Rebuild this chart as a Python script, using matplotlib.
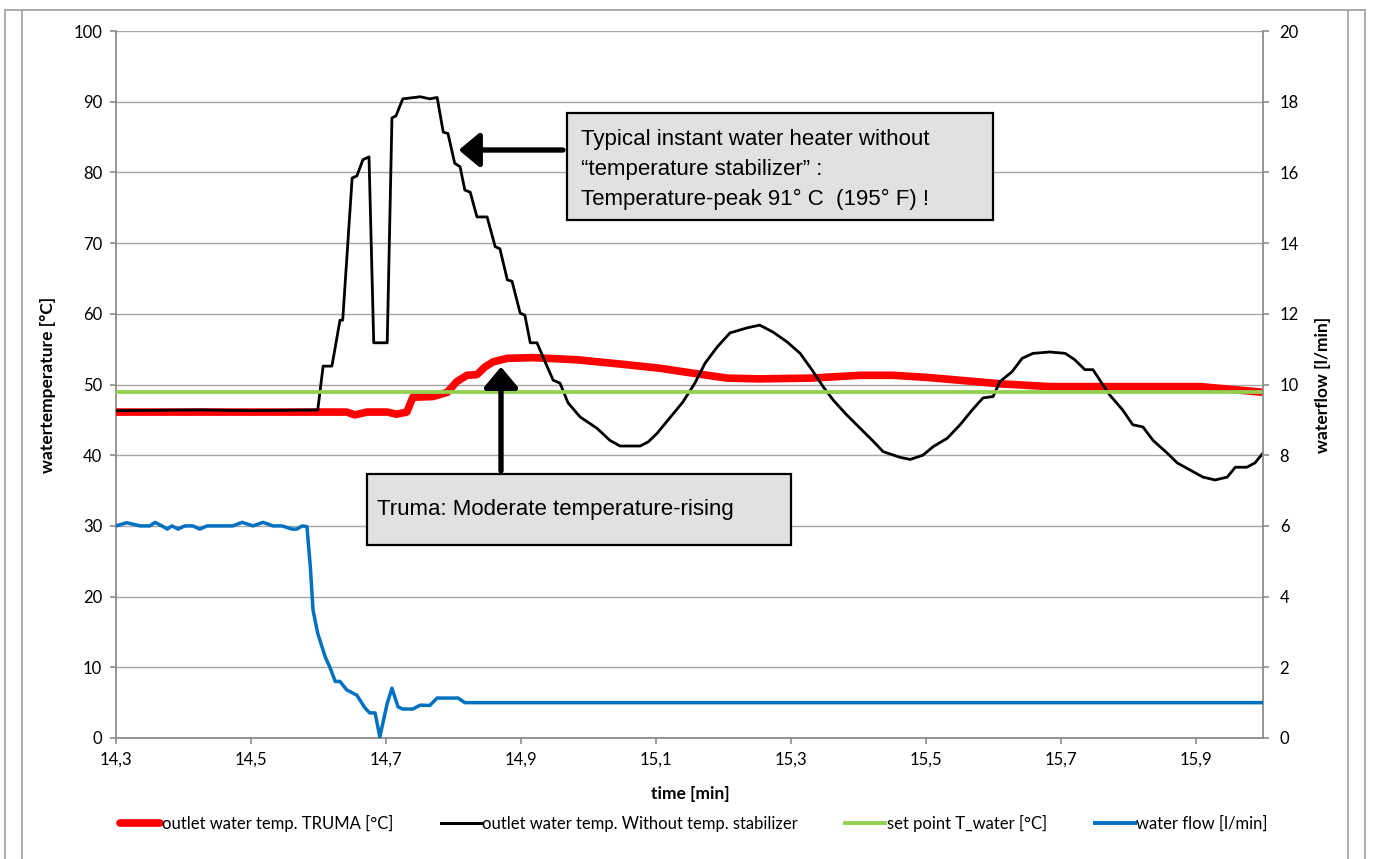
import matplotlib
matplotlib.use("Agg")
import matplotlib.pyplot as plt
from matplotlib.patches import Rectangle
from matplotlib.lines import Line2D
from matplotlib.ticker import FixedLocator, FixedFormatter

# ---------------- data ----------------
t_black = [14.300, 14.425, 14.500, 14.599, 14.607, 14.620, 14.632, 14.636, 14.650, 14.657,
           14.666, 14.675, 14.682, 14.702, 14.709, 14.715, 14.725, 14.751, 14.765, 14.776,
           14.785, 14.792, 14.802, 14.810, 14.817, 14.825, 14.835, 14.850, 14.862, 14.869,
           14.880, 14.887, 14.899, 14.906, 14.914, 14.924, 14.936, 14.948, 14.958, 14.970,
           14.988, 15.013, 15.032, 15.047, 15.077, 15.089, 15.102, 15.121, 15.140, 15.158,
           15.173, 15.191, 15.210, 15.235, 15.254, 15.274, 15.295, 15.314, 15.332, 15.348,
           15.363, 15.383, 15.403, 15.421, 15.437, 15.462, 15.477, 15.496, 15.511, 15.532,
           15.551, 15.569, 15.585, 15.600, 15.610, 15.628, 15.643, 15.659, 15.684, 15.707,
           15.721, 15.736, 15.748, 15.761, 15.773, 15.792, 15.807, 15.822, 15.837, 15.858,
           15.873, 15.892, 15.911, 15.929, 15.947, 15.959, 15.976, 15.988, 16.000]
v_black = [46.3, 46.4, 46.3, 46.4, 52.6, 52.6, 59.1, 59.1, 79.2, 79.5,
           81.8, 82.2, 55.9, 55.9, 87.7, 88.0, 90.4, 90.7, 90.4, 90.6,
           85.7, 85.5, 81.3, 80.8, 77.5, 77.2, 73.7, 73.7, 69.5, 69.2,
           64.8, 64.6, 60.1, 59.8, 55.9, 55.9, 53.2, 50.6, 50.2, 47.4,
           45.4, 43.8, 42.1, 41.3, 41.3, 41.9, 43.1, 45.3, 47.5, 50.2,
           53.0, 55.3, 57.3, 58.0, 58.4, 57.4, 56.0, 54.4, 52.0, 49.7,
           47.8, 45.7, 43.8, 42.1, 40.5, 39.7, 39.4, 40.0, 41.2, 42.4,
           44.3, 46.4, 48.1, 48.3, 50.4, 51.8, 53.7, 54.4, 54.6, 54.4,
           53.5, 52.1, 52.1, 50.2, 48.5, 46.4, 44.3, 44.0, 42.1, 40.3,
           38.9, 37.9, 36.9, 36.5, 36.9, 38.3, 38.3, 38.9, 40.3]

t_red = [14.300, 14.425, 14.642, 14.654, 14.672, 14.702, 14.716, 14.731, 14.740, 14.770,
         14.791, 14.805, 14.820, 14.835, 14.847, 14.859, 14.880, 14.918, 14.983, 15.057,
         15.106, 15.155, 15.206, 15.254, 15.329, 15.403, 15.452, 15.502, 15.551, 15.610,
         15.684, 15.833, 15.907, 16.000]
v_red = [46.1, 46.1, 46.1, 45.7, 46.1, 46.1, 45.8, 46.1, 48.2, 48.3,
         48.9, 50.4, 51.3, 51.4, 52.5, 53.2, 53.7, 53.8, 53.5, 52.8,
         52.3, 51.6, 50.9, 50.8, 50.9, 51.3, 51.3, 51.0, 50.6, 50.1,
         49.7, 49.7, 49.7, 48.9]

t_set = [14.300, 16.000]
v_set = [48.9, 48.9]

t_flow = [14.300, 14.316, 14.336, 14.350, 14.358, 14.368, 14.376, 14.383, 14.392, 14.402,
          14.414, 14.424, 14.435, 14.473, 14.487, 14.503, 14.518, 14.533, 14.546, 14.561,
          14.568, 14.576, 14.583, 14.588, 14.592, 14.599, 14.610, 14.617, 14.625, 14.632,
          14.642, 14.657, 14.669, 14.676, 14.684, 14.691, 14.702, 14.709, 14.718, 14.725,
          14.740, 14.751, 14.765, 14.776, 14.807, 14.817, 16.000]
v_flow = [6.0, 6.09, 6.0, 6.0, 6.1, 6.0, 5.91, 6.0, 5.91, 6.0,
          6.0, 5.91, 6.0, 6.0, 6.1, 6.0, 6.1, 6.0, 6.0, 5.91,
          5.91, 6.0, 5.98, 4.85, 3.62, 2.96, 2.3, 2.0, 1.6, 1.6,
          1.36, 1.21, 0.85, 0.71, 0.71, 0.03, 0.98, 1.41, 0.88, 0.82,
          0.82, 0.93, 0.92, 1.13, 1.13, 1.0, 1.0]

x_ticks = [14.3, 14.5, 14.7, 14.9, 15.1, 15.3, 15.5, 15.7, 15.9]
x_tick_labels = ["14,3", "14,5", "14,7", "14,9", "15,1", "15,3", "15,5", "15,7", "15,9"]
y_ticks = [0, 10, 20, 30, 40, 50, 60, 70, 80, 90, 100]
y2_ticks = [0, 2, 4, 6, 8, 10, 12, 14, 16, 18, 20]

labels = ["outlet water temp. TRUMA [°C]",
          "outlet water temp. Without temp. stabilizer",
          "set point T_water [°C]",
          "water flow [l/min]"]

# ---------------- figure ----------------
W, H = 1373, 859
fig = plt.figure(figsize=(W / 100, H / 100), dpi=100)
fx = lambda px: px / W
fy = lambda py: 1 - py / H

TICKFONT = ["Lato", "DejaVu Sans"]
BOXFONT = ["Liberation Sans", "DejaVu Sans"]
GRAY = "#8c8c8c"

ax = fig.add_axes([fx(116), fy(738), fx(1263) - fx(116), fy(31) - fy(738)])
ax2 = ax.twinx()

red_c, black_c, green_c, blue_c = "#ff0000", "#000000", "#92d050", "#0070c0"

ax.plot(t_red, v_red, color=red_c, lw=5.5, solid_capstyle="butt",
        solid_joinstyle="round", zorder=3)
ax.plot(t_black, v_black, color=black_c, lw=2.0, solid_joinstyle="round", zorder=4)
ax.plot(t_set, v_set, color=green_c, lw=2.7, zorder=5)
ax2.plot(t_flow, v_flow, color=blue_c, lw=2.5, solid_joinstyle="round", zorder=6)

ax.set_xlim(14.3, 16.0)
ax.set_ylim(0, 100)
ax2.set_ylim(0, 20)

ax.xaxis.set_major_locator(FixedLocator(x_ticks))
ax.xaxis.set_major_formatter(FixedFormatter(x_tick_labels))
ax.set_yticks(y_ticks)
ax2.set_yticks(y2_ticks)

ax.yaxis.grid(True, color="#a6a6a6", lw=1.0)
ax.set_axisbelow(True)

for a in (ax, ax2):
    for s in a.spines.values():
        s.set_color(GRAY)
        s.set_linewidth(1.3)
    a.spines["top"].set_visible(False)
ax2.spines["left"].set_visible(False)
ax2.spines["bottom"].set_visible(False)
ax.spines["right"].set_visible(False)

ax.tick_params(axis="both", direction="out", length=4, width=1.2, color=GRAY,
               labelsize=12, pad=6)
ax2.tick_params(axis="y", direction="out", length=4, width=1.2, color=GRAY,
                labelsize=12, pad=8)
for lab in ax.get_xticklabels() + ax.get_yticklabels() + ax2.get_yticklabels():
    lab.set_family(TICKFONT)

ax.set_ylabel("watertemperature [°C]", fontsize=12.5, fontweight="bold", family=TICKFONT)
ax.yaxis.set_label_coords(-0.052, 0.5)
ax2.set_ylabel("waterflow [l/min]", fontsize=12.5, fontweight="bold", family=TICKFONT,
               rotation=90)
ax2.yaxis.set_label_coords(1.045, 0.5)
ax.set_xlabel("time [min]", fontsize=12.5, fontweight="bold", family=TICKFONT)
ax.xaxis.set_label_coords(0.5004, -0.068)

# ---------------- legend ----------------
handles = [Line2D([], [], color=red_c, lw=5.5, solid_capstyle="round"),
           Line2D([], [], color=black_c, lw=2.2),
           Line2D([], [], color=green_c, lw=2.8),
           Line2D([], [], color=blue_c, lw=2.8)]
fig.legend(handles, labels, loc="center left", bbox_to_anchor=(fx(120), fy(823)),
           ncol=4, frameon=False, handlelength=2.4, handletextpad=0.1,
           columnspacing=2.85, borderaxespad=0, borderpad=0,
           prop={"family": TICKFONT, "size": 12})

# ---------------- annotation boxes ----------------
fig.patches.append(Rectangle((fx(567), fy(220)), fx(993) - fx(567), fy(113) - fy(220),
                             transform=fig.transFigure, facecolor="#e1e1e1",
                             edgecolor="black", lw=1.6, zorder=10))
for i, line in enumerate(["Typical instant water heater without",
                          "\u201ctemperature stabilizer\u201d :",
                          "Temperature-peak 91° C  (195° F) !"]):
    fig.text(fx(581), fy(140 + 29.5 * i), line, fontsize=16,
             family=BOXFONT, va="center", ha="left", zorder=11)

fig.patches.append(Rectangle((fx(367), fy(545)), fx(791) - fx(367), fy(474) - fy(545),
                             transform=fig.transFigure, facecolor="#e1e1e1",
                             edgecolor="black", lw=1.6, zorder=10))
fig.text(fx(377), fy(509), "Truma: Moderate temperature-rising", fontsize=16,
         family=BOXFONT, va="center", ha="left", zorder=11)

arrow_style = "-|>,head_length=0.9,head_width=0.75"
fig.add_artist(plt.annotate("", xy=(fx(459), fy(150)), xytext=(fx(563), fy(150)),
                            xycoords="figure fraction", textcoords="figure fraction",
                            arrowprops=dict(arrowstyle=arrow_style, color="black",
                                            lw=3.5, mutation_scale=14,
                                            shrinkA=0, shrinkB=0)))
fig.add_artist(plt.annotate("", xy=(fx(501), fy(367)), xytext=(fx(501), fy(471)),
                            xycoords="figure fraction", textcoords="figure fraction",
                            arrowprops=dict(arrowstyle=arrow_style, color="black",
                                            lw=3.5, mutation_scale=14,
                                            shrinkA=0, shrinkB=0)))

# ---------------- outer frame lines ----------------
fc = "#a6a6a6"
for xp in (5, 22, 1348, 1365):
    fig.add_artist(Line2D([fx(xp), fx(xp)], [fy(10), 0], color=fc, lw=1.3,
                          transform=fig.transFigure))
fig.add_artist(Line2D([fx(5), fx(1365)], [fy(10), fy(10)], color=fc, lw=1.3,
                      transform=fig.transFigure))

fig.savefig("out.png", dpi=100)
